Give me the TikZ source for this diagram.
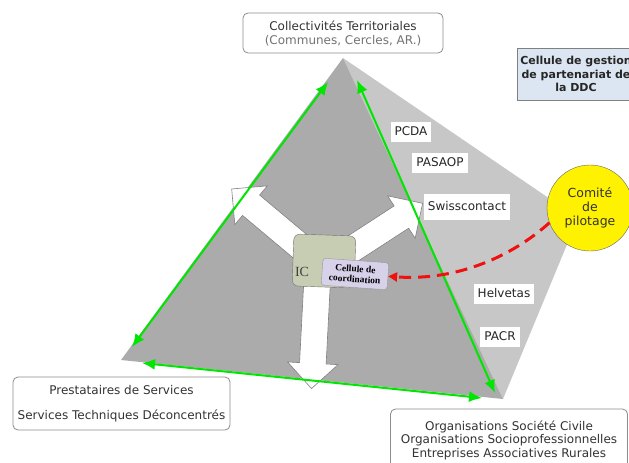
\documentclass[tikz,border=0pt]{standalone}
\usepackage{fontspec}
\setmainfont{DejaVu Sans}
\newfontfamily\cellfont{Liberation Serif}
\usepackage{tikz}
\usetikzlibrary{arrows.meta,positioning,shapes.arrows}
\definecolor{facefront}{HTML}{ABABAB}
\definecolor{faceback}{HTML}{C7C7C7}
\definecolor{linkgreen}{HTML}{00E600}
\definecolor{icgreen}{HTML}{C6CDB3}
\definecolor{celllilac}{HTML}{D8D1EA}
\definecolor{gestblue}{HTML}{DCE6F2}
\definecolor{ctrlred}{HTML}{F01010}

\begin{document}
\begin{tikzpicture}[x=1pt,y=-1pt,
  grp/.style={draw=black!45,rounded corners=5pt,fill=white,line width=0.8pt,align=center,text=black!80,font=\fontsize{12}{14}\selectfont},
  prog/.style={fill=white,inner xsep=4pt,inner ysep=4pt,text height=9pt,text depth=2.5pt,text=black!85,font=\fontsize{12}{14}\selectfont},
  flow/.style={single arrow,draw=black!50,fill=white,line width=0.6pt,inner sep=13pt,single arrow head extend=12pt,minimum height=#1},
  link/.style={{Latex[length=13pt,width=11pt]}-{Latex[length=13pt,width=11pt]},draw=linkgreen,line width=2pt},
  ctrl/.style={-{Triangle[length=9pt,width=9pt]},draw=ctrlred,line width=3pt,dash pattern=on 12pt off 7pt}
]
\useasboundingbox (0,0) rectangle (629,463);

\coordinate (apex) at (343,58);
\coordinate (bleft) at (121,360);
\coordinate (bright) at (503,399);
\coordinate (bback) at (578,218);
\fill[faceback] (apex) -- (bback) -- (bright) -- cycle;
\fill[facefront] (apex) -- (bleft) -- (bright) -- cycle;

\node[flow=105,rotate=140] (toleft) at (277,227) {};
\node[flow=105,rotate=33] (toright) at (373,235.5) {};
\node[flow=120,rotate=267] (todown) at (315,322) {};

\node[draw=black!55,fill=icgreen,rounded corners=6pt,minimum width=62pt,minimum height=52pt,rotate=-2] (ic) at (324,261) {};
\node[text=black!75,font=\cellfont\fontsize{14}{14}\selectfont] (iclab) at (302,272) {IC};
\node[draw=black!40,fill=celllilac,rounded corners=3pt,minimum width=66pt,minimum height=27pt,inner sep=1pt,align=center,rotate=-4,font=\cellfont\bfseries\fontsize{9.5}{10.5}\selectfont] (coord) at (355,274) {Cellule de\\coordination};

\coordinate (l1) at (132,347);
\coordinate (l2) at (328,82);
\coordinate (r1) at (357,80);
\coordinate (r2) at (495,393);
\coordinate (b1) at (142,363);
\coordinate (b2) at (482,398);
\draw[link] (l1) -- (l2);
\draw[link] (r1) -- (r2);
\draw[link] (b1) -- (b2);

\node[prog] (pcda) at (411,132) {PCDA};
\node[prog] (pasaop) at (440,163) {PASAOP};
\node[prog,inner ysep=7pt] (swiss) at (467,207) {Swisscontact};
\node[prog] (helv) at (504,294) {Helvetas};
\node[prog] (pacr) at (500,337) {PACR};

\node[circle,draw=black!60,fill=yellow,minimum size=86pt,inner sep=0pt,align=center,text=black!80,font=\fontsize{12.5}{14}\selectfont] (pilot) at (590,208) {Comité\\de\\pilotage};
\draw[ctrl] (pilot.200) .. controls (510,258) and (455,281) .. (coord.east);

\node[grp,minimum width=200pt,minimum height=40pt] (coll) at (343,33) {Collectivités Territoriales\\{\color{black!55}(Communes, Cercles, AR.)}};
\node[draw=black!50,fill=gestblue,minimum width=118pt,minimum height=52pt,align=center,text=black!85,font=\bfseries\fontsize{11}{13.5}\selectfont] (gest) at (576,74) {Cellule de gestion\\de partenariat de\\la DDC};
\node[grp,minimum width=217pt,minimum height=53pt] (prest) at (121.5,403.5) {Prestataires de Services\\[11pt]Services Techniques Déconcentrés};
\node[grp,minimum width=237pt,minimum height=62pt,font=\fontsize{12}{13.5}\selectfont] (orgs) at (509,440) {Organisations Société Civile\\Organisations Socioprofessionnelles\\Entreprises Associatives Rurales};
\end{tikzpicture}
\end{document}
